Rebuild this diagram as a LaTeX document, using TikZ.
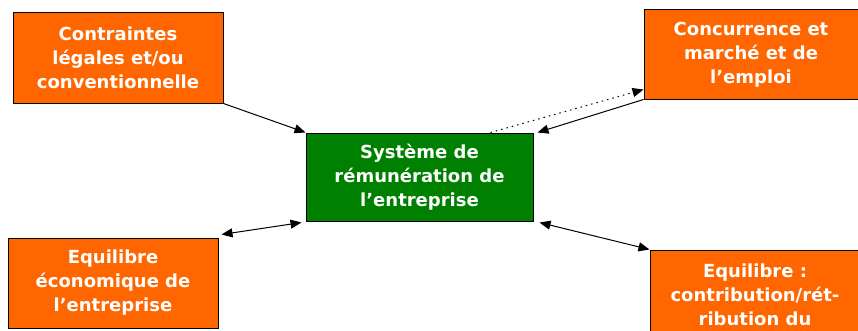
\documentclass[tikz,border=0pt]{standalone}
\usepackage{fontspec}
\setmainfont{DejaVu Sans}
\usetikzlibrary{arrows.meta,calc}
\definecolor{boxorange}{HTML}{FF6600}
\definecolor{boxgreen}{HTML}{008000}
\begin{document}
\begin{tikzpicture}[x=1pt,y=1pt,
  facteur/.style={draw=black, line width=1pt, fill=boxorange, text=white,
    font=\fontsize{18}{24}\selectfont\bfseries, align=center,
    minimum width=210pt, minimum height=90pt, inner sep=0pt},
  systeme/.style={facteur, fill=boxgreen, minimum width=227pt, minimum height=88pt},
  pointe/.tip={Triangle[length=11pt,width=9pt]},
  lien/.style={line width=1pt, -pointe}]
  \useasboundingbox (0,0) rectangle (858,330);
  \clip (0,0) rectangle (858,330);
  % the four factors round the pay system
  \node[facteur] (legal) at (118,272) {Contraintes\\légales et/ou\\conventionnelle};
  \node[facteur, minimum width=214pt, minimum height=89pt] (marche) at (751,275.5)
    {Concurrence et\\marché et de\\l’emploi};
  \node[systeme] (sys) at (419.5,153) {Système de\\rémunération de\\l’entreprise};
  \node[facteur] (eco) at (113,47) {Equilibre\\économique de\\l’entreprise};
  \node[facteur] (retrib) at (755,35) {Equilibre :\\contribution/rét-\\ribution du};
  % connectors
  \draw[lien] (legal.south east) -- (sys.north west);
  \draw[lien] (marche.south west) -- ($(sys.north east)+(4,0)$);
  \draw[lien, dash pattern=on 1.5pt off 4pt] ($(sys.north east)+(-43,0)$) -- ($(marche.south west)+(0,10)$);
  \draw[lien, pointe-pointe] ($(eco.north east)+(3,3)$) -- ($(sys.south west)+(-4,-1)$);
  \draw[lien, pointe-pointe] ($(sys.south east)+(6,-1)$) -- (retrib.north west);
\end{tikzpicture}
\end{document}
